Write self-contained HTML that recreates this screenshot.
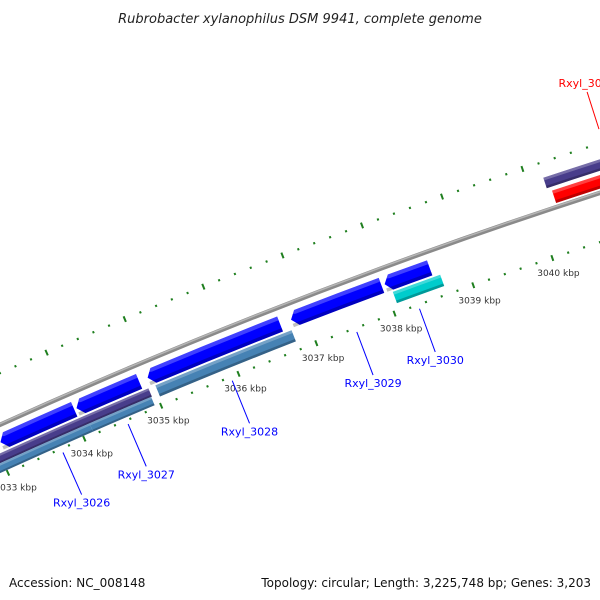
<!DOCTYPE html>
<html><head><meta charset="utf-8"><style>
body{margin:0;background:#fff;width:600px;height:600px;overflow:hidden}
svg{display:block;font-family:"DejaVu Sans","Liberation Sans",sans-serif}
</style></head><body>
<svg id="map" width="600" height="600" viewBox="0 0 600 600">
<text x="300" y="23" text-anchor="middle" font-size="13" font-style="italic" fill="#222">Rubrobacter xylanophilus DSM 9941, complete genome</text>
<g id="ticks"></g>
<g id="backbone"></g>
<g id="genes"></g>
<g id="labels"></g>
<text x="9" y="587" font-size="12" fill="#111">Accession: NC_008148</text>
<text x="591" y="587" text-anchor="end" font-size="12" fill="#111">Topology: circular; Length: 3,225,748 bp; Genes: 3,203</text>
</svg>
<script>
// data (kbp)
const tickMajors = [3031,3032,3033,3034,3035,3036,3037,3038,3039,3040,3041,3042];
const tickLabels = ["3031 kbp","3032 kbp","3033 kbp","3034 kbp","3035 kbp","3036 kbp","3037 kbp","3038 kbp","3039 kbp","3040 kbp","3041 kbp","3042 kbp"];
const geneNames  = ["rev-a","rev-b","rev-c","Rxyl_3028-b","Rxyl_3029-b","Rxyl_3030-b","Rxyl_3027","Rxyl_3026","Rxyl_3026b","Rxyl_3028","Rxyl_3030","Rxyl_3032-p","Rxyl_3032"];
const geneStarts = [3032.0,3033.07,3034.06,3034.98,3036.82,3038.01,3032.0,3032.0,3034.13,3035.03,3038.07,3040.2,3040.25];
const geneEnds   = [3033.0,3034.03,3034.87,3036.68,3037.97,3038.58,3034.94,3034.13,3034.93,3036.78,3038.67,3042.5,3042.5];
const geneRings  = ["r1","r1","r1","r1","r1","r1","r2a","r3","r3","r2","r2","f2","f1"];
const geneColors = ["#0000ff","#0000ff","#0000ff","#0000ff","#0000ff","#0000ff","#483d8b","#4682b4","#4682b4","#4682b4","#00cccc","#483d8b","#ff0000"];
const geneArrow  = [1,1,1,1,1,1,0,0,0,0,0,0,0];
const labelTexts = ["Rxyl_3026","Rxyl_3027","Rxyl_3028","Rxyl_3029","Rxyl_3030","Rxyl_3032"];
const labelColors= ["#0000ff","#0000ff","#0000ff","#0000ff","#0000ff","#ff0000"];
const labelKbp   = [3033.7,3034.55,3035.9,3037.5,3038.3,3041.0];

const NS='http://www.w3.org/2000/svg';
const cx=2346.9, cy=5602.8, R0=5685;
const rings={r1:[R0-24,R0-8],r2:[R0-38,R0-26],r2a:[R0-35,R0-26],r3:[R0-44,R0-35],f1:[R0+4,R0+17],f2:[R0+21,R0+32]};
function ang(k){return (-21.96+(k-3036)*0.85)*Math.PI/180;}
function pt(k,r){const a=ang(k);return [cx+r*Math.sin(a),cy-r*Math.cos(a)];}
function el(tag,attrs,parent){const e=document.createElementNS(NS,tag);for(const k in attrs)e.setAttribute(k,attrs[k]);parent.appendChild(e);return e;}
function arcPath(k1,k2,r){const a=pt(k1,r),b=pt(k2,r);return `M${a[0]},${a[1]} A${r},${r} 0 0 1 ${b[0]},${b[1]}`;}
function band(k1,k2,ri,ro,arrow){
  const tip=0.075;
  const s=arrow?k1+tip:k1;
  const p1=pt(s,ro),p2=pt(k2,ro),p3=pt(k2,ri),p4=pt(s,ri);
  let d=`M${p1[0]},${p1[1]} A${ro},${ro} 0 0 1 ${p2[0]},${p2[1]} L${p3[0]},${p3[1]} A${ri},${ri} 0 0 0 ${p4[0]},${p4[1]}`;
  if(arrow){const t=pt(k1,(ri+ro)/2);d+=` L${t[0]},${t[1]}`;}
  return d+' Z';
}
// backbone
const bb=document.getElementById('backbone');
let e=el('path',{d:arcPath(3031,3043,R0),fill:'none',stroke:'#8a8a8a','stroke-width':4.5},bb);

e=el('path',{d:arcPath(3031,3043,R0+1),fill:'none',stroke:'#b5b5b5','stroke-width':1.5},bb);

// ticks
const tg=document.getElementById('ticks');
const RT_in=R0-47, RT_out=R0+47;
for(let i=0;i<tickMajors.length;i++){
  const k=tickMajors[i];
  for(const r of [RT_in,RT_out]){
    const a=pt(k,r-3),b=pt(k,r+3);
    e=el('line',{x1:a[0],y1:a[1],x2:b[0],y2:b[1],stroke:'#1f7f1f','stroke-width':2},tg);
    
    for(let j=1;j<5;j++){
      const c=pt(k+j*0.2,r-1),d=pt(k+j*0.2,r+1.2);
      e=el('line',{x1:c[0],y1:c[1],x2:d[0],y2:d[1],stroke:'#1f7f1f','stroke-width':2},tg);
      
    }
  }
  const lp=pt(k,RT_in-16);
  e=el('text',{x:lp[0]+1,y:lp[1]+3,'text-anchor':'middle','font-size':9,fill:'#333'},tg);
  e.textContent=tickLabels[i];
  
}
// genes
const gg=document.getElementById('genes');
for(let i=0;i<geneStarts.length;i++){
  const [ri,ro]=rings[geneRings[i]];
  e=el('path',{d:band(geneStarts[i],geneEnds[i],ri,ro,geneArrow[i]),fill:geneColors[i]},gg);
  
  const h=(ro-ri);
  e=el('path',{d:band(geneStarts[i],geneEnds[i],ro-h*0.25,ro,geneArrow[i]),fill:'#fff','fill-opacity':0.25},gg);
  
  e=el('path',{d:band(geneStarts[i],geneEnds[i],ri,ri+h*0.22,0),fill:'#000','fill-opacity':0.25},gg);
  
}
// labels
const lg=document.getElementById('labels');
for(let i=0;i<labelTexts.length;i++){
  const fwd=labelColors[i]==='#ff0000';
  const r1=fwd?RT_out+14:RT_in-4, r2=fwd?RT_out+53:RT_in-50;
  const a=pt(labelKbp[i],r1), b=pt(labelKbp[i],r2);
  e=el('line',{x1:a[0],y1:a[1],x2:b[0],y2:b[1],stroke:labelColors[i],'stroke-width':1},lg);
  
  e=el('text',{x:b[0],y:fwd?b[1]-5:b[1]+12,'text-anchor':'middle','font-size':11,fill:labelColors[i]},lg);
  e.textContent=labelTexts[i];
  
}
</script>
</body></html>
